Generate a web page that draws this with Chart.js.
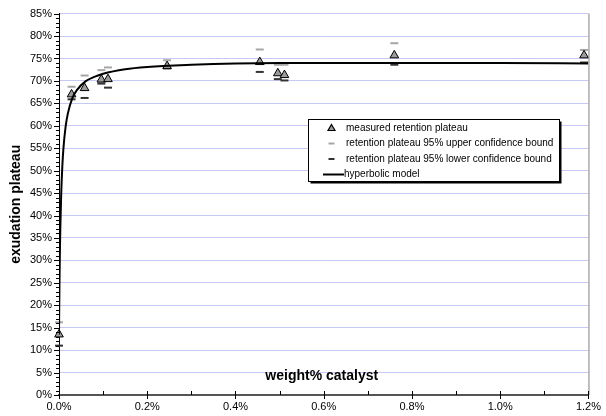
<!DOCTYPE html>
<html>
<head>
<meta charset="utf-8">
<script src="https://cdn.jsdelivr.net/npm/chart.js@4.4.1/dist/chart.umd.min.js"></script>
<style>
html,body{margin:0;padding:0;background:#fff;}
#wrap{position:relative;width:606px;height:416px;}
</style>
</head>
<body>
<div id="wrap"><canvas id="c" width="606" height="416"></canvas></div>
<script>
// ---- data ----
const measuredX = [0.0, 0.0285, 0.058, 0.096, 0.111, 0.245, 0.455, 0.496, 0.511, 0.76, 1.19];
const measuredY = [13.5, 67.0, 68.4, 70.3, 70.4, 73.3, 74.2, 71.7, 71.3, 75.7, 75.7];
const upperY    = [16.2, 68.7, 71.2, 72.4, 73.0, 74.6, 77.0, 73.6, 73.6, 78.4, 76.9];
const lowerY    = [11.0, 65.9, 66.2, 69.4, 68.5, 72.8, 72.0, 70.4, 70.1, 73.6, 74.1];
const modelX = [0, 0.001, 0.002, 0.003, 0.005, 0.0075, 0.01, 0.015, 0.02, 0.03, 0.04, 0.06, 0.08, 0.1, 0.15, 0.2, 0.3, 0.4, 0.5, 0.6, 0.8, 1.0, 1.2];
const modelY = [13.5, 24.2, 31.6, 37.2, 44.8, 50.9, 54.9, 59.8, 62.7, 66.1, 67.9, 69.9, 70.9, 71.6, 72.6, 73.1, 73.6, 73.9, 74.0, 74.0, 74.0, 74.0, 73.9];
const xTicks = [0, 0.2, 0.4, 0.6, 0.8, 1.0, 1.2];
const seriesLabels = ['measured retention plateau', 'retention plateau 95% upper confidence bound', 'retention plateau 95% lower confidence bound', 'hyperbolic model'];
const xTitle = 'weight% catalyst';
const yTitle = 'exudation plateau';

const pts = (xs, ys) => xs.map((x, i) => ({x: x, y: ys[i]}));

const FONT = 'Liberation Sans, Arial, sans-serif';

const extrasPlugin = {
  id: 'extras',
  afterDraw(chart) {
    const ctx = chart.ctx, a = chart.chartArea;
    const xs = chart.scales.x, ys = chart.scales.y;
    ctx.save();
    // right border
    ctx.strokeStyle = '#808080'; ctx.lineWidth = 1;
    ctx.beginPath(); ctx.moveTo(a.right + 0.5, a.top); ctx.lineTo(a.right + 0.5, a.bottom); ctx.stroke();
    // y minor/major ticks
    ctx.strokeStyle = '#000'; ctx.lineWidth = 1;
    for (let v = 0; v <= 85; v++) {
      const py = Math.round(ys.getPixelForValue(v)) + 0.5;
      const major = v % 5 === 0;
      ctx.beginPath();
      ctx.moveTo(a.left - (major ? 5 : 3), py);
      ctx.lineTo(a.left, py);
      ctx.stroke();
    }
    // x minor/major ticks
    for (let i = 0; i <= 12; i++) {
      const v = i / 10;
      const px = Math.round(xs.getPixelForValue(v)) + 0.5;
      const major = i % 2 === 0;
      ctx.beginPath();
      ctx.moveTo(px, a.bottom - 4);
      ctx.lineTo(px, a.bottom + (major ? 4 : 0));
      ctx.stroke();
    }
    // x title inside plot area
    ctx.fillStyle = '#000';
    ctx.font = 'bold 14px ' + FONT;
    ctx.textAlign = 'center'; ctx.textBaseline = 'middle';
    ctx.fillText(xTitle, (a.left + a.right) / 2 - 2, a.bottom - 19);

    // legend
    const bx = 308.5, by = 119.5, bw = 251, bh = 62;
    ctx.fillStyle = '#000';
    ctx.fillRect(bx + 2, by + 2, bw, bh);
    ctx.fillStyle = '#fff';
    ctx.fillRect(bx, by, bw, bh);
    ctx.strokeStyle = '#000'; ctx.lineWidth = 1;
    ctx.strokeRect(bx, by, bw, bh);
    const rows = [128, 143.5, 159, 174.5];
    const ds = chart.data.datasets;
    ctx.font = '10px ' + FONT;
    ctx.textAlign = 'left'; ctx.textBaseline = 'middle';
    const mx = 331.5;
    rows.forEach((ry, i) => {
      const d = ds[i];
      ctx.save();
      if (i === 0) {
        ctx.fillStyle = '#9a9a9a'; ctx.strokeStyle = '#000'; ctx.lineWidth = 1.2;
        ctx.beginPath();
        ctx.moveTo(mx, ry - 3.5); ctx.lineTo(mx + 3.5, ry + 2.5); ctx.lineTo(mx - 3.5, ry + 2.5); ctx.closePath();
        ctx.fill(); ctx.stroke();
      } else if (i === 1 || i === 2) {
        ctx.strokeStyle = d.borderColor; ctx.lineWidth = 2;
        ctx.beginPath(); ctx.moveTo(mx - 3, ry); ctx.lineTo(mx + 3, ry); ctx.stroke();
      } else {
        ctx.strokeStyle = '#000'; ctx.lineWidth = 2;
        ctx.beginPath(); ctx.moveTo(323, ry); ctx.lineTo(344, ry); ctx.stroke();
      }
      ctx.restore();
      ctx.fillStyle = '#000';
      ctx.fillText(d.label, i === 3 ? 344 : 346, ry);
    });
    ctx.restore();
  }
};

new Chart(document.getElementById('c'), {
  type: 'scatter',
  data: {
    datasets: [
      {label: seriesLabels[0], data: pts(measuredX, measuredY), pointStyle: 'triangle', pointRadius: 5, pointHoverRadius: 5,
       backgroundColor: '#9a9a9a', borderColor: '#000', borderWidth: 1, order: 1, clip: false},
      {label: seriesLabels[1], data: pts(measuredX, upperY), pointStyle: 'line', pointRadius: 4, pointHoverRadius: 4,
       borderColor: '#a6a6a6', backgroundColor: '#a6a6a6', borderWidth: 2, order: 2, clip: false},
      {label: seriesLabels[2], data: pts(measuredX, lowerY), pointStyle: 'line', pointRadius: 4, pointHoverRadius: 4,
       borderColor: '#333333', backgroundColor: '#333333', borderWidth: 2, order: 3, clip: false},
      {label: seriesLabels[3], data: pts(modelX, modelY), showLine: true, pointRadius: 0, pointHoverRadius: 0,
       borderColor: '#000', backgroundColor: '#000', borderWidth: 2, cubicInterpolationMode: 'monotone', order: 0}
    ]
  },
  options: {
    responsive: false,
    animation: false,
    events: [],
    layout: {padding: {top: 11, right: 12, left: 0, bottom: 0}},
    plugins: {legend: {display: false}, tooltip: {enabled: false}},
    scales: {
      x: {
        type: 'linear', min: 0, max: 1.2,
        afterFit: s => { s.height = 21; },
        afterBuildTicks: s => { s.ticks = xTicks.map(v => ({value: v})); },
        ticks: {font: {family: FONT, size: 11}, color: '#000', padding: 5, maxRotation: 0,
                callback: v => v.toFixed(1) + '%'},
        grid: {display: false, drawTicks: false},
        border: {display: true, color: '#555', width: 2}
      },
      y: {
        type: 'linear', min: 0, max: 85,
        afterFit: s => { s.width = 59; },
        ticks: {stepSize: 5, font: {family: FONT, size: 11}, color: '#000', padding: 7,
                callback: v => v + '%'},
        grid: {drawTicks: false, color: ctx => (ctx.tick && ctx.tick.value === 0) ? 'rgba(0,0,0,0)' : '#c8c8f4', lineWidth: 1},
        border: {display: true, color: '#000', width: 1},
        title: {display: true, text: yTitle, font: {family: FONT, size: 14, weight: 'bold'}, color: '#000', padding: {top: 8, bottom: 0}}
      }
    }
  },
  plugins: [extrasPlugin]
});
</script>
</body>
</html>
